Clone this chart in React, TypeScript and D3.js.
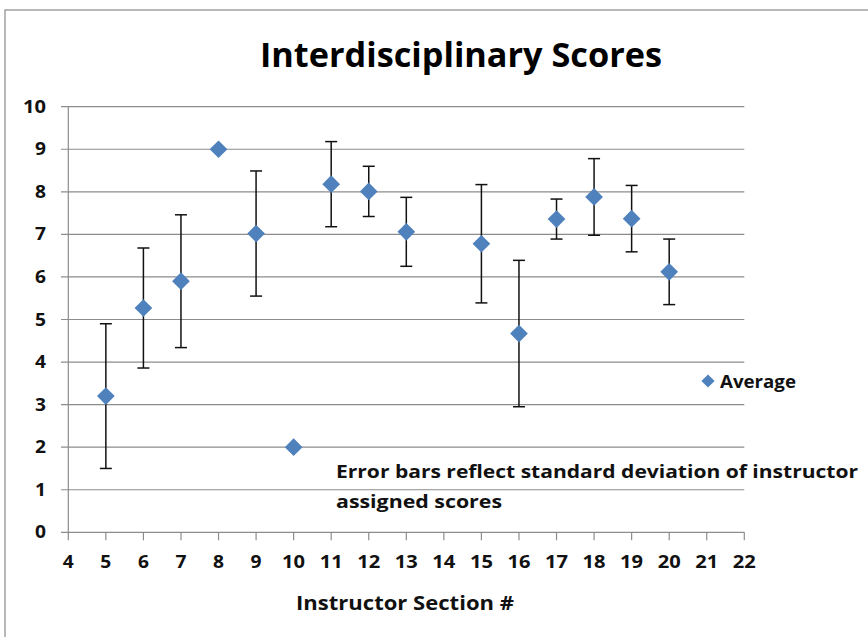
import React from "react";
import * as d3 from "d3";

const sections = [5, 6, 7, 8, 9, 10, 11, 12, 13, 15, 16, 17, 18, 19, 20];
const averages = [3.2, 5.27, 5.9, 9.0, 7.02, 2.0, 8.18, 8.01, 7.06, 6.78, 4.67, 7.36, 7.88, 7.37, 6.12];
const stdDevs = [1.7, 1.41, 1.56, 0, 1.47, 0, 1.0, 0.59, 0.81, 1.39, 1.72, 0.47, 0.9, 0.78, 0.77];
const xTicks = d3.range(4, 23);
const yTicks = d3.range(0, 11);

const W = 868;
const H = 637;
const FONT = "'Open Sans', 'DejaVu Sans', sans-serif";
const BLUE = "#4F81BD";

export default function App() {
  const x = d3.scaleLinear().domain([4, 22]).range([68.3, 744.3]);
  const y = d3.scaleLinear().domain([0, 10]).range([532.3, 106.7]);
  const diamond = d3.symbol().type(d3.symbolDiamond2).size(200)();
  const legendDiamond = d3.symbol().type(d3.symbolDiamond2).size(110)();
  const lw = (t: number) => String(t).length * 12 - 1;

  return (
    <svg width={W} height={H} style={{ position: "absolute", left: 0, top: 0, background: "#fff" }}>
      <rect x={5} y={10} width={W + 20} height={H + 20} fill="#fff" stroke="#8a8a8a" strokeWidth={1.2} />
      <text x={461} y={67} textAnchor="middle" fontFamily={FONT} fontWeight="bold" fontSize={34}
        textLength={402} lengthAdjust="spacingAndGlyphs" fill="#000">Interdisciplinary Scores</text>

      {yTicks.map((t) => (
        <g key={"y" + t}>
          <line x1={61} x2={744.3} y1={y(t)} y2={y(t)} stroke="#8c8c8c" strokeWidth={1.2} />
          <text x={46} y={y(t) + 6} textAnchor="end" fontFamily={FONT} fontWeight="bold" fontSize={17} fill="#111"
            textLength={lw(t)} lengthAdjust="spacingAndGlyphs">{t}</text>
        </g>
      ))}
      <line x1={x(4)} x2={x(4)} y1={y(10)} y2={y(0)} stroke="#8c8c8c" strokeWidth={1.2} />
      {xTicks.map((t) => (
        <g key={"x" + t}>
          <line x1={x(t)} x2={x(t)} y1={y(0)} y2={y(0) + 8} stroke="#8c8c8c" strokeWidth={1.2} />
          <text x={x(t)} y={568} textAnchor="middle" fontFamily={FONT} fontWeight="bold" fontSize={17} fill="#111"
            textLength={lw(t)} lengthAdjust="spacingAndGlyphs">{t}</text>
        </g>
      ))}

      {sections.map((s, i) =>
        stdDevs[i] > 0 ? (
          <g key={"e" + s} stroke="#111" strokeWidth={1.5}>
            <line x1={x(s)} x2={x(s)} y1={y(averages[i] + stdDevs[i])} y2={y(averages[i] - stdDevs[i])} />
            <line x1={x(s) - 6} x2={x(s) + 6} y1={y(averages[i] + stdDevs[i])} y2={y(averages[i] + stdDevs[i])} />
            <line x1={x(s) - 6} x2={x(s) + 6} y1={y(averages[i] - stdDevs[i])} y2={y(averages[i] - stdDevs[i])} />
          </g>
        ) : null
      )}
      {sections.map((s, i) => (
        <path key={"p" + s} d={diamond!} transform={`translate(${x(s)},${y(averages[i])})`} fill={BLUE} />
      ))}

      <path d={legendDiamond!} transform="translate(708,381)" fill={BLUE} />
      <text x={720} y={388} fontFamily={FONT} fontWeight="bold" fontSize={17} fill="#111"
        textLength={76} lengthAdjust="spacingAndGlyphs">Average</text>

      <text x={336} y={478} fontFamily={FONT} fontWeight="bold" fontSize={18} fill="#111"
        textLength={522} lengthAdjust="spacingAndGlyphs">Error bars reflect standard deviation of instructor</text>
      <text x={336} y={508} fontFamily={FONT} fontWeight="bold" fontSize={18} fill="#111"
        textLength={166} lengthAdjust="spacingAndGlyphs">assigned scores</text>

      <text x={405} y={610} textAnchor="middle" fontFamily={FONT} fontWeight="bold" fontSize={20} fill="#111"
        textLength={218} lengthAdjust="spacingAndGlyphs">Instructor Section #</text>
    </svg>
  );
}
